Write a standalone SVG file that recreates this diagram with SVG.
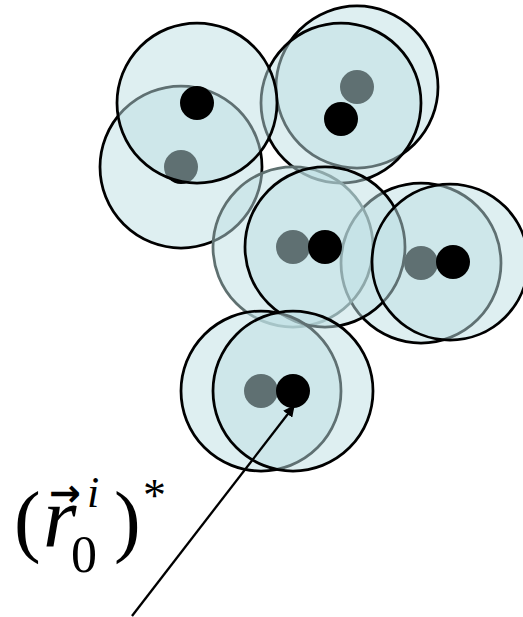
<svg xmlns="http://www.w3.org/2000/svg" width="523" height="617" viewBox="0 0 523 617">
  <style>
    .c { fill: #bee0e4; fill-opacity: 0.5; stroke: #000; stroke-width: 2.75; }
    .cg { fill: #bee0e4; fill-opacity: 0.5; stroke: #5f7070; stroke-width: 2.75; }
    .d { fill: #000; }
    .t { font-family: "Liberation Serif", "Times New Roman", "DejaVu Serif", serif; fill: #000; }
    .it { font-style: italic; }
  </style>
  <defs>
    <marker id="ah" viewBox="0 0 10 10" refX="9" refY="5" markerWidth="5" markerHeight="5" markerUnits="strokeWidth" orient="auto">
      <path d="M0,0 L10,5 L0,10 z" fill="#000"/>
    </marker>
  </defs>
  <rect width="523" height="617" fill="#fff"/>

  <g id="p4-old"><circle class="c" cx="421" cy="263" r="80"/><circle class="d" cx="421" cy="263" r="17"/></g>
  <g id="p2-old"><circle class="c" cx="357" cy="87" r="81"/><circle class="d" cx="357" cy="87" r="17"/></g>
  <g id="p2-new"><circle class="c" cx="341" cy="103" r="80"/><circle class="d" cx="341" cy="119" r="17"/></g>
  <g id="p1-old"><circle class="c" cx="181" cy="167" r="81"/><circle class="d" cx="181" cy="167" r="17"/></g>
  <g id="p1-new"><circle class="c" cx="197" cy="103" r="80"/><circle class="d" cx="197" cy="103" r="17"/></g>
  <g id="p3-old"><circle class="cg" cx="293" cy="247" r="80"/><circle class="d" cx="293" cy="247" r="17"/></g>
  <g id="p3-new"><circle class="c" cx="325" cy="247" r="80"/><circle class="d" cx="325" cy="247" r="17"/></g>
  <g id="p4-new"><circle class="c" cx="450" cy="262" r="78"/><circle class="d" cx="453" cy="262" r="17"/></g>
  <g id="p5-old"><circle class="c" cx="261" cy="391" r="80"/><circle class="d" cx="261" cy="391" r="17"/></g>
  <g id="p5-new"><circle class="c" cx="293" cy="391" r="80"/><circle class="d" cx="293" cy="391" r="17"/></g>

  <g id="connectors">
    <line x1="132" y1="616" x2="294" y2="406" stroke="#000" stroke-width="2.3" marker-end="url(#ah)"/>
  </g>

  <g id="label">
    <text class="t" x="14" y="547" font-size="80">(</text>
    <text class="t it" x="43" y="547" font-size="86">r</text>
    <text x="49" y="506" font-size="38" font-weight="bold" font-family="'DejaVu Sans', sans-serif" fill="#000">→</text>
    <text class="t it" x="87" y="507" font-size="44">i</text>
    <text class="t" x="71" y="572" font-size="52">0</text>
    <text class="t" x="114" y="547" font-size="80">)</text>
    <text class="t" x="143" y="511" font-size="46">*</text>
  </g>
</svg>
